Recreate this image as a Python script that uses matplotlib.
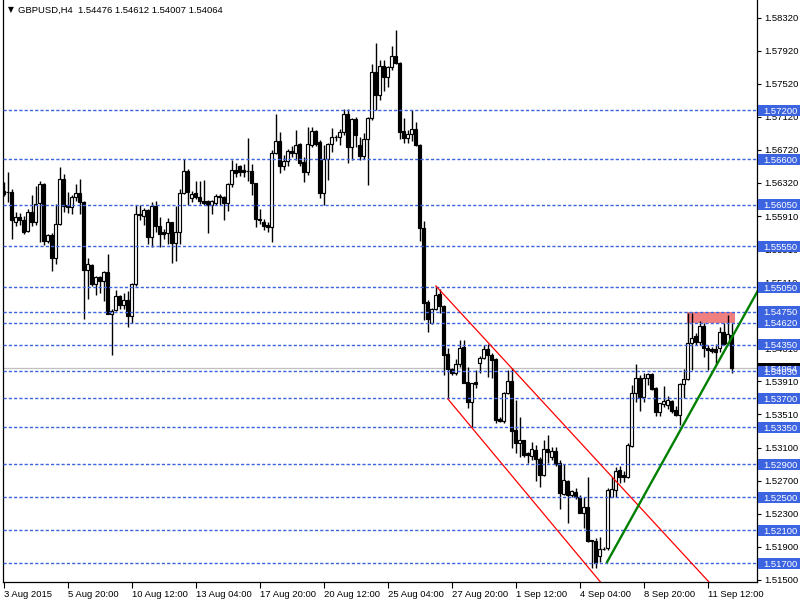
import numpy as np
import matplotlib
matplotlib.use("Agg")
import matplotlib.pyplot as plt
from matplotlib.patches import Rectangle
from matplotlib.transforms import blended_transform_factory

plt.rcParams["font.family"] = ["Liberation Sans", "DejaVu Sans"]

# ---- GBPUSD H4 candles ----
opens = [
    1.56222, 1.56210, 1.56210, 1.55845, 1.55900, 1.55865, 1.55730, 1.55960, 1.55840, 1.56070,
    1.56300, 1.55610, 1.55680, 1.55410, 1.55820, 1.56365, 1.56050, 1.56020, 1.56140, 1.56195,
    1.56080, 1.55260, 1.55320, 1.55086, 1.55170, 1.55126, 1.55230, 1.54730, 1.54770, 1.54940,
    1.54830, 1.54890, 1.54700, 1.55090, 1.55940, 1.55910, 1.55990, 1.55660, 1.56030, 1.55790,
    1.55715, 1.55710, 1.55840, 1.55590, 1.55715, 1.56190, 1.56460, 1.56130, 1.56190, 1.56150,
    1.56097, 1.56100, 1.56050, 1.56077, 1.56160, 1.56140, 1.56070, 1.56300, 1.56474, 1.56520,
    1.56470, 1.56460, 1.56460, 1.56310, 1.55880, 1.55838, 1.55805, 1.55785, 1.56677, 1.56827,
    1.56515, 1.56583, 1.56705, 1.56677, 1.56786, 1.56575, 1.56442, 1.56776, 1.56946, 1.56809,
    1.56192, 1.56603, 1.56784, 1.56877, 1.56869, 1.56930, 1.57147, 1.56756, 1.57087, 1.56776,
    1.56643, 1.56845, 1.57099, 1.57663, 1.57381, 1.57732, 1.57595, 1.57716, 1.57853, 1.57776,
    1.56946, 1.56857, 1.56909, 1.56966, 1.56776, 1.55769, 1.54876, 1.54613, 1.54783, 1.54965,
    1.54824, 1.54237, 1.54059, 1.54006, 1.54116, 1.54322, 1.53897, 1.53662, 1.53897, 1.54128,
    1.54188, 1.54298, 1.54229, 1.54176, 1.53448, 1.53432, 1.53764, 1.53913, 1.53319, 1.53165,
    1.53197, 1.53035, 1.53003, 1.53076, 1.52967, 1.52772, 1.53084, 1.52987, 1.53064, 1.52914,
    1.52542, 1.52704, 1.52530, 1.52570, 1.52509, 1.52315, 1.52380, 1.51979, 1.51975, 1.51789,
    1.51870, 1.51882, 1.52509, 1.52590, 1.52833, 1.52772, 1.52744, 1.53124, 1.53772, 1.53946,
    1.53715, 1.53946, 1.53998, 1.53824, 1.53541, 1.53630, 1.53622, 1.53671, 1.53561, 1.53501,
    1.53873, 1.53934, 1.54371, 1.54452, 1.54391, 1.54581, 1.54310, 1.54298, 1.54298, 1.54310,
    1.54512, 1.54371, 1.54476,
]
highs = [
    1.56324, 1.56450, 1.56240, 1.55960, 1.55950, 1.55920, 1.56000, 1.56170, 1.56275, 1.56340,
    1.56320, 1.55700, 1.55710, 1.56060, 1.56510, 1.56425, 1.56210, 1.56170, 1.56300, 1.56365,
    1.56090, 1.55400, 1.55330, 1.55190, 1.55190, 1.55250, 1.55450, 1.54780, 1.55020, 1.54960,
    1.54976, 1.55000, 1.55106, 1.56050, 1.56050, 1.56010, 1.55995, 1.56080, 1.56090, 1.55900,
    1.55756, 1.55890, 1.55845, 1.56040, 1.56240, 1.56600, 1.56490, 1.56220, 1.56340, 1.56340,
    1.56350, 1.56110, 1.56110, 1.56180, 1.56180, 1.56160, 1.56320, 1.56590, 1.56555, 1.56535,
    1.56547, 1.56860, 1.56547, 1.56320, 1.55996, 1.55874, 1.55846, 1.56710, 1.57155, 1.56928,
    1.56657, 1.56725, 1.56758, 1.56952, 1.56798, 1.56636, 1.56998, 1.56998, 1.56958, 1.56837,
    1.56776, 1.56797, 1.56978, 1.56897, 1.56966, 1.57208, 1.57208, 1.57099, 1.57119, 1.56869,
    1.56917, 1.57119, 1.57764, 1.58014, 1.57812, 1.57804, 1.57732, 1.57974, 1.58167, 1.57784,
    1.57099, 1.56958, 1.57200, 1.57059, 1.56788, 1.55857, 1.54896, 1.54795, 1.55066, 1.55026,
    1.54836, 1.54310, 1.54067, 1.54176, 1.54411, 1.54411, 1.54087, 1.53893, 1.54047, 1.54217,
    1.54350, 1.54362, 1.54249, 1.54188, 1.53480, 1.53784, 1.54047, 1.54067, 1.53683, 1.53480,
    1.53197, 1.53056, 1.53177, 1.53136, 1.52995, 1.53197, 1.53258, 1.53116, 1.53116, 1.52954,
    1.52906, 1.52712, 1.52590, 1.52610, 1.52530, 1.52501, 1.52744, 1.51983, 1.52004, 1.52016,
    1.51902, 1.52610, 1.52752, 1.52873, 1.52882, 1.52825, 1.53157, 1.53865, 1.54120, 1.53986,
    1.54006, 1.54014, 1.54006, 1.53845, 1.53650, 1.53853, 1.53731, 1.53683, 1.53610, 1.53885,
    1.54055, 1.54743, 1.54743, 1.54492, 1.54634, 1.54613, 1.54350, 1.54322, 1.54363, 1.54565,
    1.54613, 1.54715, 1.54612,
]
lows = [
    1.56162, 1.56080, 1.55640, 1.55790, 1.55800, 1.55695, 1.55715, 1.55790, 1.55800, 1.55600,
    1.55560, 1.55585, 1.55250, 1.55330, 1.55800, 1.55960, 1.55950, 1.55940, 1.56100, 1.55940,
    1.54660, 1.54910, 1.55060, 1.54960, 1.54976, 1.54880, 1.54720, 1.54230, 1.54760, 1.54780,
    1.54780, 1.54570, 1.54620, 1.55065, 1.55860, 1.55800, 1.55570, 1.55540, 1.55720, 1.55540,
    1.55630, 1.55570, 1.55340, 1.55370, 1.55570, 1.56180, 1.56050, 1.56080, 1.56120, 1.56060,
    1.56050, 1.55710, 1.55940, 1.56050, 1.56050, 1.55866, 1.55980, 1.56270, 1.56385, 1.56400,
    1.56390, 1.56340, 1.56170, 1.55777, 1.55817, 1.55744, 1.55716, 1.55600, 1.56665, 1.56433,
    1.56474, 1.56523, 1.56636, 1.56596, 1.56515, 1.56332, 1.56414, 1.56756, 1.56764, 1.56131,
    1.56051, 1.56353, 1.56696, 1.56829, 1.56776, 1.56897, 1.56563, 1.56595, 1.56756, 1.56595,
    1.56603, 1.56285, 1.57079, 1.57200, 1.57321, 1.57433, 1.57482, 1.57691, 1.57764, 1.56845,
    1.56805, 1.56797, 1.56829, 1.56764, 1.55607, 1.54654, 1.54512, 1.54605, 1.54775, 1.54735,
    1.53986, 1.53703, 1.53986, 1.53986, 1.54087, 1.53885, 1.53582, 1.53359, 1.53824, 1.54006,
    1.54176, 1.53966, 1.53946, 1.53399, 1.53412, 1.53399, 1.53756, 1.53096, 1.53035, 1.52995,
    1.52995, 1.52914, 1.52954, 1.52704, 1.52631, 1.52760, 1.52914, 1.52954, 1.52882, 1.52356,
    1.52530, 1.52186, 1.52501, 1.52477, 1.52307, 1.52125, 1.51963, 1.51639, 1.51639, 1.51720,
    1.51862, 1.51862, 1.52501, 1.52501, 1.52679, 1.52691, 1.52732, 1.53116, 1.53662, 1.53553,
    1.53662, 1.53865, 1.53804, 1.53489, 1.53489, 1.53602, 1.53570, 1.53529, 1.53489, 1.53379,
    1.53703, 1.53926, 1.54047, 1.54350, 1.54350, 1.54209, 1.54047, 1.54249, 1.54108, 1.54269,
    1.54350, 1.54350, 1.54007,
]
closes = [
    1.56182, 1.56205, 1.55860, 1.55900, 1.55860, 1.55720, 1.55960, 1.55840, 1.56060, 1.56300,
    1.55610, 1.55680, 1.55410, 1.55820, 1.56360, 1.56040, 1.56020, 1.56140, 1.56190, 1.56080,
    1.55260, 1.55330, 1.55086, 1.55170, 1.55126, 1.55230, 1.54730, 1.54760, 1.54940, 1.54830,
    1.54890, 1.54700, 1.55090, 1.55940, 1.55926, 1.55990, 1.55660, 1.56030, 1.55790, 1.55700,
    1.55700, 1.55840, 1.55585, 1.55715, 1.56190, 1.56460, 1.56210, 1.56180, 1.56140, 1.56090,
    1.56077, 1.56050, 1.56100, 1.56160, 1.56140, 1.56070, 1.56300, 1.56474, 1.56440, 1.56450,
    1.56450, 1.56458, 1.56310, 1.55874, 1.55860, 1.55797, 1.55785, 1.56677, 1.56827, 1.56515,
    1.56583, 1.56705, 1.56677, 1.56778, 1.56563, 1.56442, 1.56788, 1.56946, 1.56788, 1.56192,
    1.56603, 1.56784, 1.56869, 1.56873, 1.56930, 1.57147, 1.56756, 1.57087, 1.56897, 1.56643,
    1.56845, 1.57099, 1.57663, 1.57381, 1.57732, 1.57595, 1.57716, 1.57853, 1.57776, 1.56938,
    1.56857, 1.56909, 1.56966, 1.56776, 1.55769, 1.54864, 1.54662, 1.54783, 1.54957, 1.54816,
    1.54229, 1.54055, 1.54014, 1.54116, 1.54318, 1.53893, 1.53662, 1.53885, 1.53881, 1.54188,
    1.54298, 1.54229, 1.54168, 1.53440, 1.53432, 1.53764, 1.53913, 1.53310, 1.53165, 1.53197,
    1.53015, 1.53015, 1.53084, 1.52967, 1.52772, 1.53084, 1.53056, 1.53068, 1.52906, 1.52550,
    1.52712, 1.52530, 1.52578, 1.52509, 1.52315, 1.52380, 1.51975, 1.51971, 1.51700, 1.51870,
    1.51878, 1.52590, 1.52598, 1.52825, 1.52752, 1.52752, 1.53136, 1.53772, 1.53946, 1.53715,
    1.53946, 1.53998, 1.53816, 1.53541, 1.53642, 1.53675, 1.53683, 1.53553, 1.53501, 1.53873,
    1.53934, 1.54371, 1.54431, 1.54391, 1.54581, 1.54310, 1.54294, 1.54282, 1.54269, 1.54512,
    1.54358, 1.54484, 1.54064,
]

# horizontal support / resistance levels
levels = [1.57200, 1.56600, 1.56050, 1.55550, 1.55050, 1.54750, 1.54620,
          1.54350, 1.54030, 1.53700, 1.53350, 1.52900, 1.52500, 1.52100, 1.51700]
bid = 1.54064

# trend lines: (bar, price) anchors
chan_upper_t = [108.1, 161.6]
chan_upper_p = [1.55065, 1.52250]
chan_lower_t = [111.1, 148.6]
chan_lower_p = [1.53694, 1.51510]
green_t = [150.9, 186.6]
green_p = [1.51716, 1.54834]

# zone rectangle
zone_t = [170.95, 182.9]
zone_p = [1.54620, 1.54750]

price_ticks = [1.58320, 1.57920, 1.57520, 1.57120, 1.56720, 1.56320, 1.55910, 1.55510,
               1.55110, 1.54710, 1.54310, 1.53910, 1.53510, 1.53100, 1.52700, 1.52300,
               1.51900, 1.51500]
time_ticks = list(range(0, 177, 16))
time_labels = ["3 Aug 2015", "5 Aug 20:00", "10 Aug 12:00", "13 Aug 04:00", "17 Aug 20:00",
               "20 Aug 12:00", "25 Aug 04:00", "27 Aug 20:00", "1 Sep 12:00", "4 Sep 04:00",
               "8 Sep 20:00", "11 Sep 12:00"]

BLUE = "#3D64E0"
FS = 6.8

fig = plt.figure(figsize=(8, 6), dpi=100)
ax = fig.add_axes([3 / 800, 18 / 600, 754 / 800, 582 / 600])
ax.set_xlim(-0.125, 188.375)
ax.set_ylim(1.51473, 1.58535)

o = np.array(opens); h = np.array(highs); l = np.array(lows); c = np.array(closes)
x = np.arange(len(o))
up = c >= o

ax.vlines(x, l, h, color="black", lw=1.0, zorder=2)
ax.bar(x, np.abs(c - o), bottom=np.minimum(o, c), width=0.55,
       color=np.where(up, "white", "black"), edgecolor="black", lw=0.85, zorder=3)

# levels
for lv in levels:
    ax.axhline(lv, color=BLUE, lw=1.0, ls=(0, (2.3, 1.5)), zorder=4)
ax.axhline(bid, color="#C0C0C0", lw=0.9, zorder=1)

# trend lines (rays)
def ray(ts, ps, t_end):
    k = (ps[1] - ps[0]) / (ts[1] - ts[0])
    return [ts[0], t_end], [ps[0], ps[0] + k * (t_end - ts[0])]

tx, py = ray(chan_upper_t, chan_upper_p, 200)
ax.plot(tx, py, color="red", lw=0.9, zorder=5)
tx, py = ray(chan_lower_t, chan_lower_p, 200)
ax.plot(tx, py, color="red", lw=0.9, zorder=5)
tx, py = ray(green_t, green_p, 200)
ax.plot(tx, py, color="#008000", lw=1.7, zorder=5)

ax.add_patch(Rectangle((zone_t[0], zone_p[0]), zone_t[1] - zone_t[0], zone_p[1] - zone_p[0],
                       facecolor="#F08080", edgecolor="none", zorder=1.5))

# axes styling
for s in ["left", "bottom", "right"]:
    ax.spines[s].set_linewidth(0.9)
ax.spines["top"].set_visible(False)
ax.yaxis.tick_right()
ax.set_yticks(price_ticks)
ax.set_yticklabels([f"{p:.5f}" for p in price_ticks])
ax.tick_params(axis="y", direction="out", length=3, width=0.8, pad=2, labelsize=FS)
ax.set_xticks(time_ticks)
ax.set_xticklabels(time_labels)
ax.tick_params(axis="x", direction="out", length=4, width=0.8, pad=2, labelsize=FS)
for lab in ax.get_xticklabels():
    lab.set_ha("left")

# price labels on the right
tr = blended_transform_factory(ax.transAxes, ax.transData)
box_h = 11 / 8242
def price_box(p, fc):
    ax.add_patch(Rectangle((1.0013, p - box_h / 2), 0.057, box_h, transform=tr,
                           facecolor=fc, edgecolor="none", clip_on=False, zorder=6))
    ax.text(1.0080, p, f"{p:.5f}", transform=tr, color="white", fontsize=FS,
            va="center_baseline", ha="left", clip_on=False, zorder=7)

price_box(bid, "black")
for lv in levels:
    price_box(lv, BLUE)

fig.text(8 / 800, 1 - 10 / 600, "\u25BC", fontsize=5.5, va="center", ha="left",
         family="DejaVu Sans")
fig.text(18 / 800, 1 - 10 / 600, "GBPUSD,H4  1.54476 1.54612 1.54007 1.54064",
         fontsize=FS, va="center", ha="left")

fig.savefig("out.png", dpi=100)
